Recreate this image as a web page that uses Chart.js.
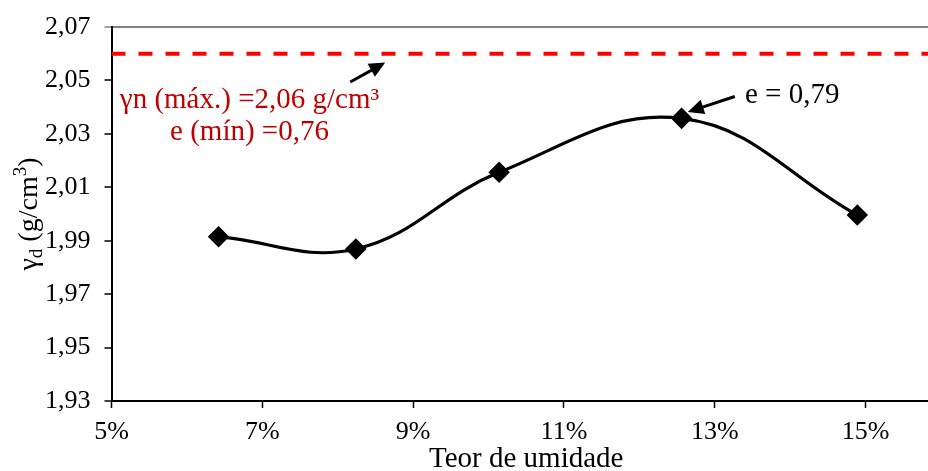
<!DOCTYPE html>
<html><head><meta charset="utf-8">
<script src="https://cdn.jsdelivr.net/npm/chart.js@4.4.0/dist/chart.umd.min.js"></script>
<style>
html,body{margin:0;padding:0;background:#fff;overflow:hidden;width:928px;height:471px}
#wrap{width:942px;height:471px;position:relative}
</style></head>
<body><div id="wrap"><canvas id="c" width="942" height="471"></canvas></div>
<script>
// ---- data ----
const moisture = [6.42, 8.24, 10.14, 12.56, 14.89];          // Teor de umidade (%)
const dryDensity = [1.9915, 1.9869, 2.0156, 2.0358, 1.9996];  // γd (g/cm³)
const maxLineX = [5, 16];
const maxLineY = [2.06, 2.06];
const xTicks = [5, 7, 9, 11, 13, 15];
const yTicks = [1.93, 1.95, 1.97, 1.99, 2.01, 2.03, 2.05, 2.07];
const xTitle = 'Teor de umidade';
const yTitleParts = ['γ', 'd', ' (g/cm', '3', ')'];
const noteMax = ['γn (máx.) =2,06 g/cm³', 'e (mín) =0,76'];
const noteE = 'e = 0,79';

const FONT = '"Liberation Serif", "Times New Roman", Times, serif';

const notes = {
  maxText: { x: 6.83, y1: 2.0397, y2: 2.0277 },
  arrowMax: { from: [8.166, 2.0494], to: [8.63, 2.0567] },
  eText: { x: 13.40, y: 2.0414 },
  arrowE: { from: [13.265, 2.0440], to: [12.642, 2.0382] }
};

function drawArrow(ctx, x0, y0, x1, y1) {
  const ang = Math.atan2(y1 - y0, x1 - x0);
  const hl = 16, hw = 7.5;
  const bx = x1 - hl * Math.cos(ang), by = y1 - hl * Math.sin(ang);
  ctx.strokeStyle = '#000'; ctx.fillStyle = '#000'; ctx.lineWidth = 3;
  ctx.beginPath(); ctx.moveTo(x0, y0); ctx.lineTo(bx + 2 * Math.cos(ang), by + 2 * Math.sin(ang)); ctx.stroke();
  ctx.beginPath();
  ctx.moveTo(x1, y1);
  ctx.lineTo(bx + hw * Math.sin(ang), by - hw * Math.cos(ang));
  ctx.lineTo(bx - hw * Math.sin(ang), by + hw * Math.cos(ang));
  ctx.closePath(); ctx.fill();
}

const overlay = {
  id: 'overlay',
  afterDatasetsDraw(chart) {
    const { ctx, scales: { x, y } } = chart;
    ctx.save();
    ctx.fillStyle = '#C00000';
    ctx.font = '29px ' + FONT;
    ctx.textAlign = 'center';
    ctx.textBaseline = 'alphabetic';
    const cx = x.getPixelForValue(notes.maxText.x);
    ctx.fillText(noteMax[0], cx, y.getPixelForValue(notes.maxText.y1));
    ctx.fillText(noteMax[1], cx, y.getPixelForValue(notes.maxText.y2));
    ctx.fillStyle = '#000';
    ctx.textAlign = 'left';
    ctx.fillText(noteE, x.getPixelForValue(notes.eText.x), y.getPixelForValue(notes.eText.y));
    const a = notes.arrowMax, b = notes.arrowE;
    drawArrow(ctx, x.getPixelForValue(a.from[0]), y.getPixelForValue(a.from[1]),
                   x.getPixelForValue(a.to[0]), y.getPixelForValue(a.to[1]));
    drawArrow(ctx, x.getPixelForValue(b.from[0]), y.getPixelForValue(b.from[1]),
                   x.getPixelForValue(b.to[0]), y.getPixelForValue(b.to[1]));
    ctx.restore();
  },
  afterDraw(chart) {
    const { ctx, chartArea } = chart;
    const big = '28px ' + FONT, small = '19px ' + FONT;
    const fonts = [big, small, big, small, big];
    const shifts = [0, 5, 0, -11, 0];
    ctx.save();
    let total = 0;
    const widths = yTitleParts.map((t, i) => { ctx.font = fonts[i]; const w = ctx.measureText(t).width; total += w; return w; });
    ctx.translate(37, (chartArea.top + chartArea.bottom) / 2);
    ctx.rotate(-Math.PI / 2);
    ctx.fillStyle = '#000';
    ctx.textBaseline = 'alphabetic';
    ctx.textAlign = 'left';
    let px = -total / 2;
    yTitleParts.forEach((t, i) => { ctx.font = fonts[i]; ctx.fillText(t, px, shifts[i]); px += widths[i]; });
    ctx.restore();
  }
};

new Chart(document.getElementById('c'), {
  type: 'scatter',
  data: {
    datasets: [
      {
        data: moisture.map((m, i) => ({ x: m, y: dryDensity[i] })),
        showLine: true,
        borderColor: '#000',
        backgroundColor: '#000',
        borderWidth: 3.2,
        tension: 0.4,
        pointStyle: 'rectRot',
        pointRadius: 8.5,
        pointHoverRadius: 8.5,
        order: 1
      },
      {
        data: maxLineX.map((m, i) => ({ x: m, y: maxLineY[i] })),
        showLine: true,
        borderColor: '#FF0000',
        borderWidth: 4,
        borderDash: [14, 13],
        pointRadius: 0,
        pointHoverRadius: 0,
        order: 2
      }
    ]
  },
  options: {
    responsive: false,
    animation: false,
    events: [],
    layout: { autoPadding: false, padding: { top: 27, left: 0, right: 1, bottom: 0 } },
    plugins: { legend: { display: false }, tooltip: { enabled: false } },
    scales: {
      x: {
        type: 'linear', min: 5, max: 16,
        afterBuildTicks: s => { s.ticks = xTicks.map(v => ({ value: v })); },
        afterFit: s => { s.height = 70; s.paddingLeft = 0; s.paddingRight = 0; },
        border: { color: '#000', width: 2 },
        grid: { drawOnChartArea: false, tickLength: 7, tickColor: '#000', tickWidth: 1.5 },
        ticks: {
          font: { family: FONT, size: 26 }, color: '#000', padding: 9, maxRotation: 0,
          callback: v => v + '%'
        },
        title: { display: true, text: xTitle, font: { family: FONT, size: 29 }, color: '#000', padding: { top: 0, bottom: -6 } }
      },
      y: {
        type: 'linear', min: 1.93, max: 2.07,
        afterBuildTicks: s => { s.ticks = yTicks.map(v => ({ value: v })); },
        afterFit: s => { s.width = 111.5; s.paddingTop = 0; s.paddingBottom = 0; },
        border: { color: '#000', width: 2 },
        grid: {
          tickLength: 7, tickWidth: 1.5,
          color: c => (c.index === yTicks.length - 1 ? '#808080' : 'rgba(0,0,0,0)'),
          lineWidth: c => (c.index === yTicks.length - 1 ? 2 : 0),
          tickColor: c => (c.index === yTicks.length - 1 ? '#808080' : '#000')
        },
        ticks: {
          font: { family: FONT, size: 26 }, color: '#000', padding: 14,
          callback: v => v.toFixed(2).replace('.', ',')
        }
      }
    }
  },
  plugins: [overlay]
});
</script>
</body></html>
